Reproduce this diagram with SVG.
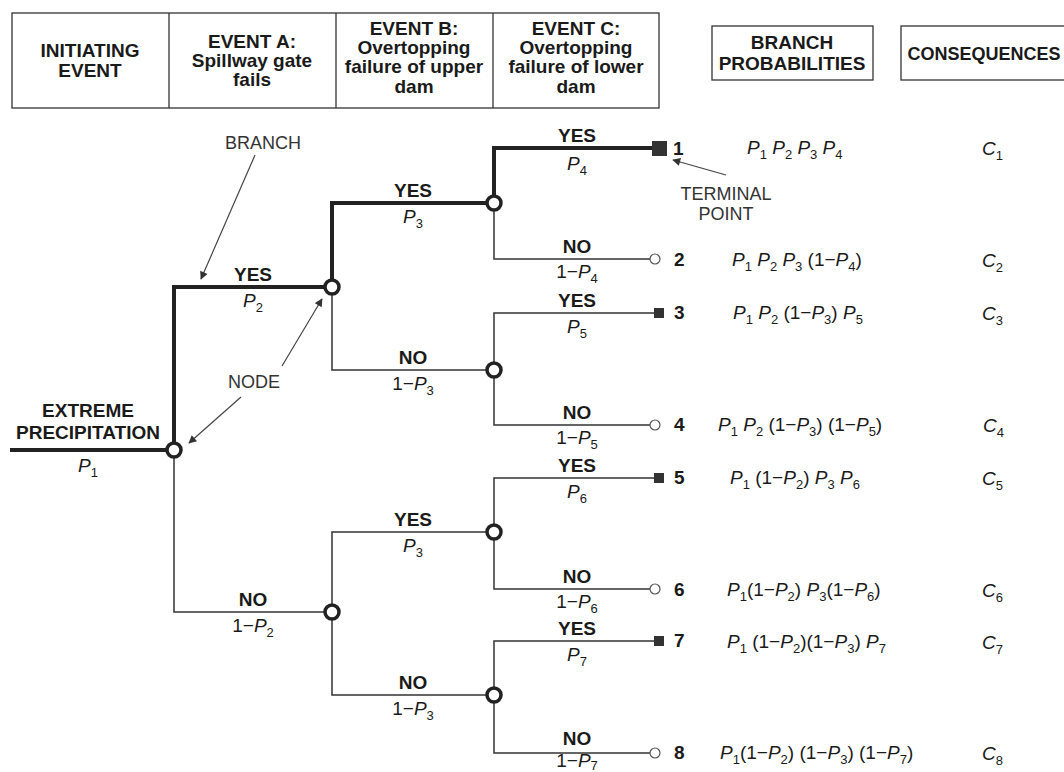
<svg xmlns="http://www.w3.org/2000/svg" width="1064" height="772" viewBox="0 0 1064 772">
<defs>
<style>
text{font-family:"Liberation Sans",Arial,Helvetica,sans-serif;fill:#1a1a1a}
.hd{font-size:19px;font-weight:bold;text-anchor:middle}
.lb{font-size:19px;font-weight:bold;text-anchor:middle}
.pl{font-size:19px;text-anchor:middle}
.an{font-size:18px;text-anchor:middle;fill:#333}
.num{font-size:19px;font-weight:bold}
.pr{font-size:19px}
.i{font-style:italic}
.s{font-size:13px;font-style:normal}
.box{fill:#fff;stroke:#333;stroke-width:1.3}
.thick{fill:none;stroke:#222;stroke-width:4;stroke-linejoin:miter}
.thin{fill:none;stroke:#333;stroke-width:1.5}
.node{fill:#fff;stroke:#222;stroke-width:3.5}
.open{fill:#fff;stroke:#555;stroke-width:1.2}
.sq{fill:#333}
.arr{stroke:#444;stroke-width:1.2;fill:none;marker-end:url(#ah)}
</style>
<marker id="ah" viewBox="0 0 10 10" refX="9" refY="5" markerWidth="10" markerHeight="8" markerUnits="userSpaceOnUse" orient="auto"><path d="M0,0 L10,5 L0,10 z" fill="#333"/></marker>
</defs>
<rect width="1064" height="772" fill="#fff"/>

<g id="header">
<rect class="box" x="12" y="13" width="647" height="95"/>
<line x1="169" y1="13" x2="169" y2="108" stroke="#333" stroke-width="1.3"/>
<line x1="336" y1="13" x2="336" y2="108" stroke="#333" stroke-width="1.3"/>
<line x1="493" y1="13" x2="493" y2="108" stroke="#333" stroke-width="1.3"/>
<text class="hd" x="90" y="57">INITIATING</text>
<text class="hd" x="90" y="77">EVENT</text>
<text class="hd" x="252" y="48">EVENT A:</text>
<text class="hd" x="252" y="67">Spillway gate</text>
<text class="hd" x="252" y="86">fails</text>
<text class="hd" x="414" y="35">EVENT B:</text>
<text class="hd" x="414" y="54">Overtopping</text>
<text class="hd" x="414" y="73">failure of upper</text>
<text class="hd" x="414" y="93">dam</text>
<text class="hd" x="576" y="35">EVENT C:</text>
<text class="hd" x="576" y="54">Overtopping</text>
<text class="hd" x="576" y="73">failure of lower</text>
<text class="hd" x="576" y="93">dam</text>
</g>
<g id="hdr-prob">
<rect class="box" x="712" y="26" width="161" height="54"/>
<text class="hd" x="792" y="49">BRANCH</text>
<text class="hd" x="792" y="70">PROBABILITIES</text>
</g>
<g id="hdr-cons">
<rect class="box" x="901" y="26" width="170" height="54"/>
<text class="hd" x="984" y="60" style="font-size:18px">CONSEQUENCES</text>
</g>

<g id="connectors">
<path class="thick" d="M10,450 H174 V287 H332 V203 H494 V148 H656"/>
<path class="thin" d="M174,450 V612 H332"/>
<path class="thin" d="M332,287 V370 H494"/>
<path class="thin" d="M494,203 V259 H650"/>
<path class="thin" d="M494,370 V313 H656 M494,370 V425 H650"/>
<path class="thin" d="M332,612 V532 H494 M332,612 V695 H494"/>
<path class="thin" d="M494,532 V478 H656 M494,532 V589 H650"/>
<path class="thin" d="M494,695 V641 H656 M494,695 V753 H650"/>
</g>

<g id="branch-labels">
<text class="lb" x="88" y="417">EXTREME</text>
<text class="lb" x="88" y="439">PRECIPITATION</text>
<text class="pl" x="88" y="472"><tspan class="i">P</tspan><tspan class="s" dy="5">1</tspan></text>

<text class="lb" x="253" y="281">YES</text>
<text class="pl" x="253" y="307"><tspan class="i">P</tspan><tspan class="s" dy="5">2</tspan></text>
<text class="lb" x="253" y="606">NO</text>
<text class="pl" x="253" y="632">1−<tspan class="i">P</tspan><tspan class="s" dy="5">2</tspan></text>

<text class="lb" x="413" y="197">YES</text>
<text class="pl" x="413" y="223"><tspan class="i">P</tspan><tspan class="s" dy="5">3</tspan></text>
<text class="lb" x="413" y="364">NO</text>
<text class="pl" x="413" y="390">1−<tspan class="i">P</tspan><tspan class="s" dy="5">3</tspan></text>
<text class="lb" x="413" y="526">YES</text>
<text class="pl" x="413" y="552"><tspan class="i">P</tspan><tspan class="s" dy="5">3</tspan></text>
<text class="lb" x="413" y="689">NO</text>
<text class="pl" x="413" y="715">1−<tspan class="i">P</tspan><tspan class="s" dy="5">3</tspan></text>

<text class="lb" x="577" y="142">YES</text>
<text class="pl" x="577" y="170"><tspan class="i">P</tspan><tspan class="s" dy="5">4</tspan></text>
<text class="lb" x="577" y="253">NO</text>
<text class="pl" x="577" y="278">1−<tspan class="i">P</tspan><tspan class="s" dy="5">4</tspan></text>
<text class="lb" x="577" y="307">YES</text>
<text class="pl" x="577" y="333"><tspan class="i">P</tspan><tspan class="s" dy="5">5</tspan></text>
<text class="lb" x="577" y="419">NO</text>
<text class="pl" x="577" y="444">1−<tspan class="i">P</tspan><tspan class="s" dy="5">5</tspan></text>
<text class="lb" x="577" y="472">YES</text>
<text class="pl" x="577" y="498"><tspan class="i">P</tspan><tspan class="s" dy="5">6</tspan></text>
<text class="lb" x="577" y="583">NO</text>
<text class="pl" x="577" y="608">1−<tspan class="i">P</tspan><tspan class="s" dy="5">6</tspan></text>
<text class="lb" x="577" y="635">YES</text>
<text class="pl" x="577" y="661"><tspan class="i">P</tspan><tspan class="s" dy="5">7</tspan></text>
<text class="lb" x="577" y="745">NO</text>
<text class="pl" x="577" y="767">1−<tspan class="i">P</tspan><tspan class="s" dy="3">7</tspan></text>
</g>

<g id="nodes">
<circle class="node" cx="174" cy="450" r="7"/>
<circle class="node" cx="332" cy="287" r="7"/>
<circle class="node" cx="332" cy="612" r="7"/>
<circle class="node" cx="494" cy="203" r="7"/>
<circle class="node" cx="494" cy="370" r="7"/>
<circle class="node" cx="494" cy="532" r="7"/>
<circle class="node" cx="494" cy="695" r="7"/>
</g>

<g id="terminal-1"><rect class="sq" x="652" y="141" width="15" height="15"/><text class="num" x="673" y="155">1</text></g>
<g id="terminal-2"><circle class="open" cx="655" cy="259" r="5"/><text class="num" x="674" y="266">2</text></g>
<g id="terminal-3"><rect class="sq" x="654" y="308" width="10" height="10"/><text class="num" x="674" y="319">3</text></g>
<g id="terminal-4"><circle class="open" cx="655" cy="425" r="5"/><text class="num" x="674" y="431">4</text></g>
<g id="terminal-5"><rect class="sq" x="654" y="473" width="10" height="10"/><text class="num" x="674" y="484">5</text></g>
<g id="terminal-6"><circle class="open" cx="655" cy="589" r="5"/><text class="num" x="674" y="596">6</text></g>
<g id="terminal-7"><rect class="sq" x="654" y="636" width="10" height="10"/><text class="num" x="674" y="647">7</text></g>
<g id="terminal-8"><circle class="open" cx="655" cy="753" r="5"/><text class="num" x="674" y="759">8</text></g>

<g id="probabilities">
<text class="pr" x="747" y="154"><tspan class="i">P</tspan><tspan class="s" dy="5">1</tspan><tspan dy="-5">  </tspan><tspan class="i">P</tspan><tspan class="s" dy="5">2</tspan><tspan dy="-5"> </tspan><tspan class="i">P</tspan><tspan class="s" dy="5">3</tspan><tspan dy="-5"> </tspan><tspan class="i">P</tspan><tspan class="s" dy="5">4</tspan></text>
<text class="pr" x="732" y="266"><tspan class="i">P</tspan><tspan class="s" dy="5">1</tspan><tspan dy="-5">  </tspan><tspan class="i">P</tspan><tspan class="s" dy="5">2</tspan><tspan dy="-5"> </tspan><tspan class="i">P</tspan><tspan class="s" dy="5">3</tspan><tspan dy="-5"> (1−</tspan><tspan class="i">P</tspan><tspan class="s" dy="5">4</tspan><tspan dy="-5">)</tspan></text>
<text class="pr" x="733" y="319"><tspan class="i">P</tspan><tspan class="s" dy="5">1</tspan><tspan dy="-5">  </tspan><tspan class="i">P</tspan><tspan class="s" dy="5">2</tspan><tspan dy="-5"> (1−</tspan><tspan class="i">P</tspan><tspan class="s" dy="5">3</tspan><tspan dy="-5">) </tspan><tspan class="i">P</tspan><tspan class="s" dy="5">5</tspan></text>
<text class="pr" x="718" y="431"><tspan class="i">P</tspan><tspan class="s" dy="5">1</tspan><tspan dy="-5"> </tspan><tspan class="i">P</tspan><tspan class="s" dy="5">2</tspan><tspan dy="-5"> (1−</tspan><tspan class="i">P</tspan><tspan class="s" dy="5">3</tspan><tspan dy="-5">) (1−</tspan><tspan class="i">P</tspan><tspan class="s" dy="5">5</tspan><tspan dy="-5">)</tspan></text>
<text class="pr" x="730" y="484"><tspan class="i">P</tspan><tspan class="s" dy="5">1</tspan><tspan dy="-5">  (1−</tspan><tspan class="i">P</tspan><tspan class="s" dy="5">2</tspan><tspan dy="-5">) </tspan><tspan class="i">P</tspan><tspan class="s" dy="5">3</tspan><tspan dy="-5"> </tspan><tspan class="i">P</tspan><tspan class="s" dy="5">6</tspan></text>
<text class="pr" x="727" y="596"><tspan class="i">P</tspan><tspan class="s" dy="5">1</tspan><tspan dy="-5">(1−</tspan><tspan class="i">P</tspan><tspan class="s" dy="5">2</tspan><tspan dy="-5">) </tspan><tspan class="i">P</tspan><tspan class="s" dy="5">3</tspan><tspan dy="-5">(1−</tspan><tspan class="i">P</tspan><tspan class="s" dy="5">6</tspan><tspan dy="-5">)</tspan></text>
<text class="pr" x="727" y="648"><tspan class="i">P</tspan><tspan class="s" dy="5">1</tspan><tspan dy="-5"> (1−</tspan><tspan class="i">P</tspan><tspan class="s" dy="5">2</tspan><tspan dy="-5">)(1−</tspan><tspan class="i">P</tspan><tspan class="s" dy="5">3</tspan><tspan dy="-5">) </tspan><tspan class="i">P</tspan><tspan class="s" dy="5">7</tspan></text>
<text class="pr" x="720" y="759"><tspan class="i">P</tspan><tspan class="s" dy="5">1</tspan><tspan dy="-5">(1−</tspan><tspan class="i">P</tspan><tspan class="s" dy="5">2</tspan><tspan dy="-5">) (1−</tspan><tspan class="i">P</tspan><tspan class="s" dy="5">3</tspan><tspan dy="-5">) (1−</tspan><tspan class="i">P</tspan><tspan class="s" dy="5">7</tspan><tspan dy="-5">)</tspan></text>
</g>

<g id="consequences">
<text class="pr" x="982" y="155"><tspan class="i">C</tspan><tspan class="s" dy="5">1</tspan></text>
<text class="pr" x="982" y="267"><tspan class="i">C</tspan><tspan class="s" dy="5">2</tspan></text>
<text class="pr" x="982" y="320"><tspan class="i">C</tspan><tspan class="s" dy="5">3</tspan></text>
<text class="pr" x="983" y="432"><tspan class="i">C</tspan><tspan class="s" dy="5">4</tspan></text>
<text class="pr" x="982" y="485"><tspan class="i">C</tspan><tspan class="s" dy="5">5</tspan></text>
<text class="pr" x="982" y="597"><tspan class="i">C</tspan><tspan class="s" dy="5">6</tspan></text>
<text class="pr" x="982" y="649"><tspan class="i">C</tspan><tspan class="s" dy="5">7</tspan></text>
<text class="pr" x="982" y="760"><tspan class="i">C</tspan><tspan class="s" dy="5">8</tspan></text>
</g>

<g id="annotations">
<text class="an" x="263" y="149">BRANCH</text>
<line class="arr" x1="255" y1="155" x2="201" y2="279"/>
<text class="an" x="254" y="388">NODE</text>
<line class="arr" x1="282" y1="366" x2="322" y2="299"/>
<line class="arr" x1="241" y1="397" x2="189" y2="443"/>
<text class="an" x="726" y="200">TERMINAL</text>
<text class="an" x="726" y="220">POINT</text>
<line class="arr" x1="726" y1="175" x2="673" y2="160"/>
</g>
</svg>
